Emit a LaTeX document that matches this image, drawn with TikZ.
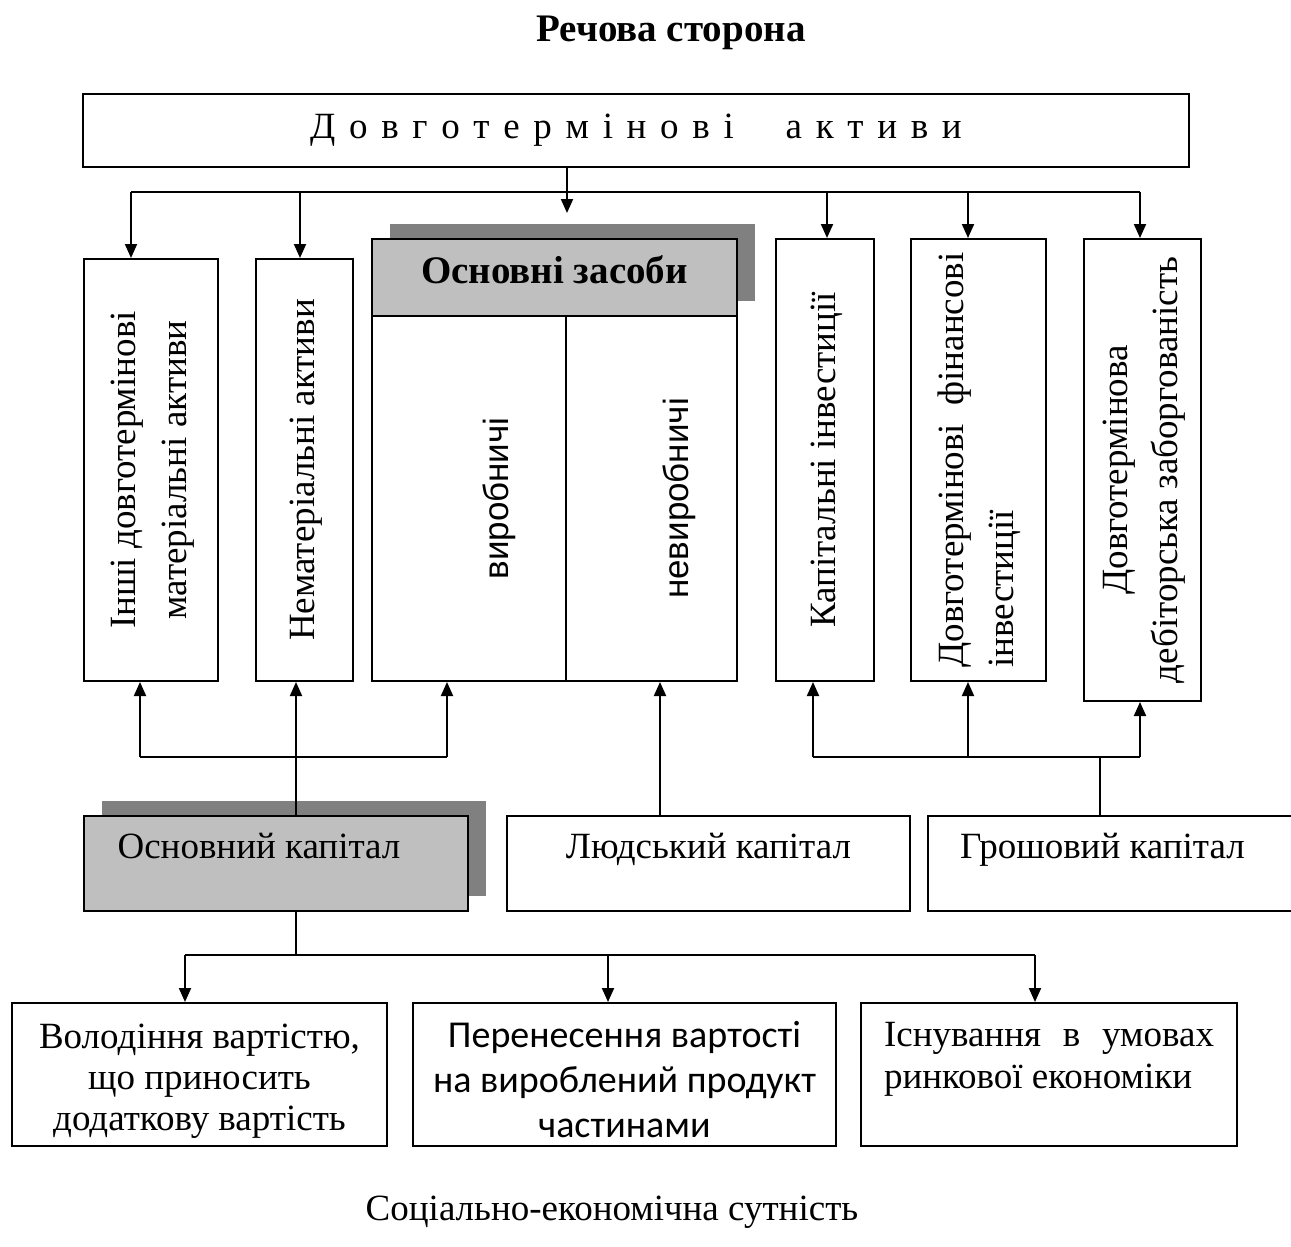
\documentclass[tikz,border=0pt]{standalone}
\usepackage{graphicx}
\usepackage{fontspec}
\setmainfont{Liberation Serif}
\newfontfamily\arialfont{Liberation Sans}
\newfontfamily\calibrifont{Carlito}
\usetikzlibrary{arrows.meta, shadows, calc}

\newcommand{\bodyfont}{\fontsize{18.5}{25.3}\selectfont}
\newcommand{\headfont}{\fontsize{19.5}{23}\selectfont\bfseries}
% rotated and stacked text
\newcommand{\vlines}[2][c]{\rotatebox{90}{\begin{tabular}{@{}#1@{}}#2\end{tabular}}}
\newcommand{\hlines}[2][c]{\begin{tabular}[t]{@{}#1@{}}#2\end{tabular}}

\begin{document}
\begin{tikzpicture}[x=0.5pt, y=-0.5pt,
        box/.style={draw, line width=1pt, fill=white, inner sep=0pt, align=center, font=\bodyfont},
        greybox/.style={box, fill=black!25, drop shadow={shadow xshift=9pt, shadow yshift=7.5pt, fill=black!50, opacity=1}},
        arrow/.style={line width=1pt, -{Triangle[length=7pt, width=6pt]}},
        line/.style={line width=1pt}
        ]
        \useasboundingbox (0,0) rectangle (1291,1247);

        % Nodes
        \node (title) [font=\headfont] at (671,33) {Речова сторона};

        \node (dovg) [box, anchor=north west, minimum width=553pt, minimum height=36.5pt] at (82,93)
            {{\spaceskip=0.37em Д о в г о т е р м і н о в і\hspace{1.4em}а к т и в и}};

        \node (inshi) [box, anchor=north west, minimum width=67pt, minimum height=211pt] at (83,258)
            {\vlines{Інші довготермінові\\матеріальні активи}};
        \node (nemat) [box, anchor=north west, minimum width=48.5pt, minimum height=211pt] at (255,258)
            {\vlines{Нематеріальні активи}};

        \node (osnhead) [greybox, anchor=north west, minimum width=182.5pt, text height=22pt, text depth=16.5pt, font=\headfont] at (371,238) {Основні засоби};
        \node (vyrob) [box, anchor=north west, minimum width=97pt, minimum height=182.5pt, font=\arialfont\fontsize{17.5}{21}\selectfont] at (371,315)
            {\hspace*{30pt}\rotatebox{90}{виробничі}};
        \node (nevyrob) [box, anchor=north west, minimum width=85.5pt, minimum height=182.5pt, font=\arialfont\fontsize{17.5}{21}\selectfont] at (565,315)
            {\hspace*{27.5pt}\rotatebox{90}{невиробничі}};

        \node (kapinv) [box, anchor=north west, minimum width=49pt, minimum height=221pt] at (775,238)
            {\vlines{Капітальні інвестиції}};
        \node (fininv) [box, anchor=north west, minimum width=67.5pt, minimum height=221pt] at (910,238)
            {\vlines[l]{Довготермінові\ \ фінансові\\інвестиції}};
        \node (debt) [box, anchor=north west, minimum width=58.5pt, minimum height=231pt] at (1083,238)
            {\vlines{Довготермінова\\дебіторська заборгованість}};

        \node (osnkap) [greybox, anchor=north west, minimum width=192pt, text height=21pt, text depth=26.5pt] at (83,815)
            {Основний капітал\hspace*{17pt}};
        \node (ludkap) [box, anchor=north west, minimum width=201.5pt, text height=21pt, text depth=26.5pt] at (506,815)
            {Людський капітал};
        \node (groskap) [box, anchor=north west, minimum width=186.5pt, text height=21pt, text depth=26.5pt] at (927,815)
            {Грошовий капітал\hspace*{12pt}};

        \node (vlod) [box, anchor=north west, minimum width=187.5pt, text height=22.5pt, text depth=49pt, font=\fontsize{18.5}{20.5}\selectfont] at (11,1002)
            {\hlines{Володіння вартістю,\\що приносить\\додаткову вартість}};
        \node (pern) [box, anchor=north west, minimum width=211.5pt, text height=22pt, text depth=49.5pt, font=\calibrifont\fontsize{19}{22.5}\selectfont] at (412,1002)
            {\hlines{Перенесення вартості\\на вироблений продукт\\частинами}};
        \node (isnuv) [box, anchor=north west, minimum width=188pt, text height=21.5pt, text depth=50pt, font=\fontsize{18.5}{21}\selectfont] at (860,1002)
            {\hlines[l]{\makebox[165pt][s]{Існування в умовах}\\ринкової економіки}};

        \node (sutn) [font=\bodyfont] at (612,1212) {Соціально-економічна сутність};

        % Bus points
        \coordinate (t1) at (131,192);
        \coordinate (t2) at (300,192);
        \coordinate (t4) at (827,192);
        \coordinate (t5) at (968,192);
        \coordinate (t6) at (1140,192);
        \coordinate (midtip) at ($(osnhead.north -| vyrob.east)+(0,-25)$);

        \coordinate (b1) at (140,757);
        \coordinate (b2) at (296,757);
        \coordinate (b3) at (447,757);
        \coordinate (b4) at (660,757);
        \coordinate (b5) at (813,757);
        \coordinate (b6) at (968,757);
        \coordinate (b7) at (1140,757);
        \coordinate (bg) at (1100,757);

        \coordinate (l0) at (296,955);
        \coordinate (l1) at (185,955);
        \coordinate (l2) at (608,955);
        \coordinate (l3) at (1035,955);

        % Arrows
        \draw [line] (t1) -- (t6);
        \draw [arrow] (dovg.south -| vyrob.east) -- (midtip);
        \foreach \t/\n in {t1/inshi, t2/nemat, t4/kapinv, t5/fininv, t6/debt}
            \draw [arrow] (\t) -- (\t |- \n.north);

        \draw [line] (b1) -- (b3);
        \draw [arrow] (b1) -- (b1 |- inshi.south);
        \draw [arrow] (b3) -- (b3 |- vyrob.south);
        \draw [arrow] (b2 |- osnkap.north) -- (b2 |- nemat.south);
        \draw [arrow] (b4 |- ludkap.north) -- (b4 |- nevyrob.south);

        \draw [line] (b5) -- (b7);
        \draw [line] (bg |- groskap.north) -- (bg);
        \foreach \b/\n in {b5/kapinv, b6/fininv, b7/debt}
            \draw [arrow] (\b) -- (\b |- \n.south);

        \draw [line] (l0 |- osnkap.south) -- (l0);
        \draw [line] (l1) -- (l3);
        \foreach \l/\n in {l1/vlod, l2/pern, l3/isnuv}
            \draw [arrow] (\l) -- (\l |- \n.north);

\end{tikzpicture}
\end{document}
